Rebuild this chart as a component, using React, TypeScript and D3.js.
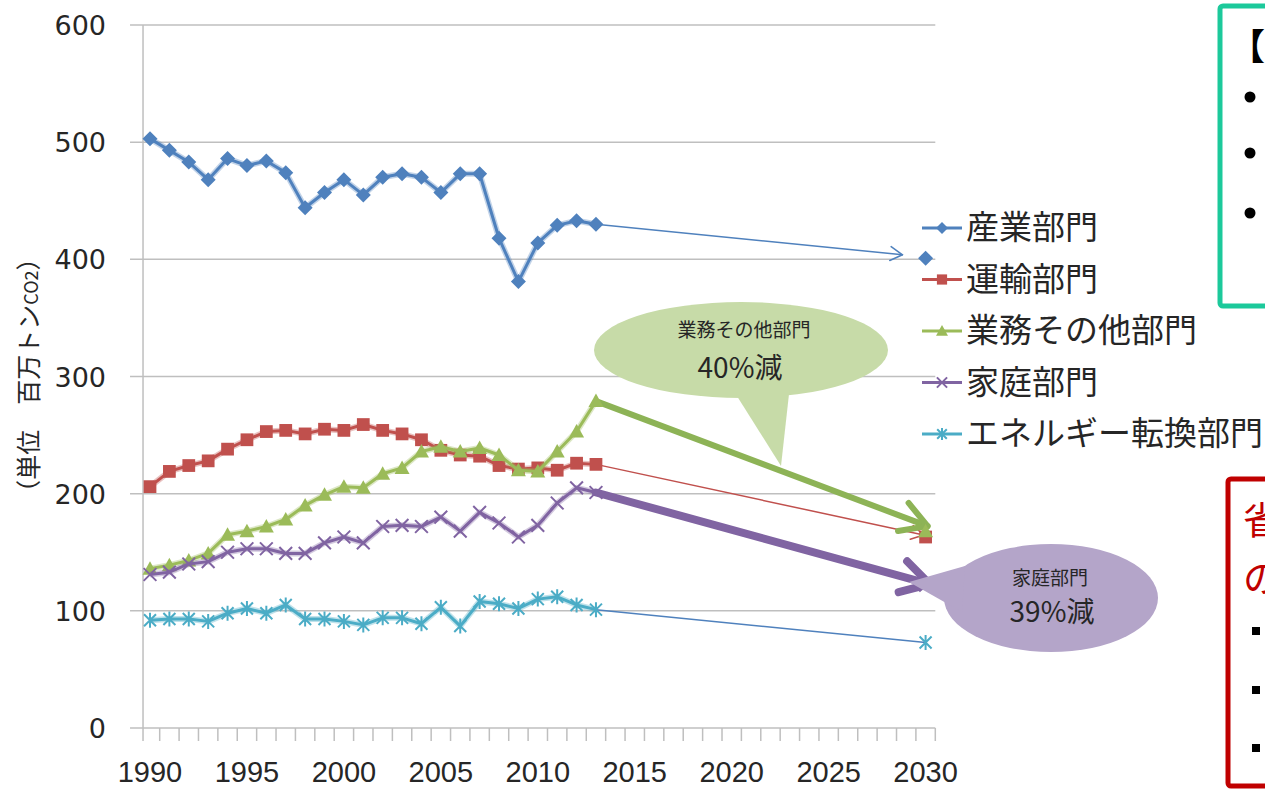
import React, { useRef, useEffect } from 'react';
import * as d3 from 'd3';

const years = [1990, 1991, 1992, 1993, 1994, 1995, 1996, 1997, 1998, 1999, 2000, 2001,
  2002, 2003, 2004, 2005, 2006, 2007, 2008, 2009, 2010, 2011, 2012, 2013];
const targetYear = 2030;
const yTicks = [0, 100, 200, 300, 400, 500, 600];
const xTickLabels = [1990, 1995, 2000, 2005, 2010, 2015, 2020, 2025, 2030];

const seriesNames = ['産業部門', '運輸部門', '業務その他部門', '家庭部門', 'エネルギー転換部門'];
const industry = [503, 493, 483, 468, 486, 480, 484, 474, 444, 457, 468, 455, 470, 473, 470, 457, 473, 473, 418, 381, 414, 429, 433, 430];
const transport = [206, 219, 224, 228, 238, 246, 253, 254, 251, 255, 254, 259, 254, 251, 246, 237, 233, 232, 224, 221, 222, 220, 226, 225];
const commercial = [136, 139, 143, 149, 165, 168, 172, 178, 190, 199, 206, 205, 217, 222, 236, 240, 236, 239, 233, 220, 219, 236, 253, 279];
const residential = [131, 133, 140, 142, 150, 153, 153, 149, 149, 158, 163, 158, 172, 173, 172, 180, 168, 184, 175, 163, 173, 192, 205, 201];
const energy = [92, 93, 93, 91, 98, 102, 98, 105, 93, 93, 91, 88, 94, 94, 89, 103, 87, 108, 106, 102, 110, 112, 105, 101];
const targets = [401, 163, 168, 122, 73];

const colors = ['#4f81bd', '#c0504d', '#9bbb59', '#8064a2', '#4bacc6'];
const symbols = ['diamond', 'square', 'triangle', 'x', 'star'];

const W = 1265;
const H = 791;
const TEXT = '#262626';
const JP = 'Noto Sans CJK JP, sans-serif';

function drawMarker(g: any, kind: string, cx: number, cy: number, color: string, s: number) {
  if (kind === 'diamond') {
    g.append('path').attr('d', `M${cx},${cy - s}L${cx + s},${cy}L${cx},${cy + s}L${cx - s},${cy}Z`).attr('fill', color);
  } else if (kind === 'square') {
    g.append('rect').attr('x', cx - s * 0.85).attr('y', cy - s * 0.85)
      .attr('width', s * 1.7).attr('height', s * 1.7).attr('fill', color);
  } else if (kind === 'triangle') {
    g.append('path').attr('d', `M${cx},${cy - s}L${cx + s},${cy + s * 0.8}L${cx - s},${cy + s * 0.8}Z`).attr('fill', color);
  } else if (kind === 'x') {
    const d = s * 0.85;
    g.append('path').attr('d', `M${cx - d},${cy - d}L${cx + d},${cy + d}M${cx - d},${cy + d}L${cx + d},${cy - d}`)
      .attr('stroke', color).attr('stroke-width', 2).attr('fill', 'none');
  } else {
    const d = s * 0.8;
    g.append('path').attr('d', `M${cx - d},${cy - d}L${cx + d},${cy + d}M${cx - d},${cy + d}L${cx + d},${cy - d}M${cx},${cy - s}L${cx},${cy + s}`)
      .attr('stroke', color).attr('stroke-width', 2).attr('fill', 'none');
  }
}

function arrow(g: any, x0: number, y0: number, x1: number, y1: number, color: string, w: number, head: number) {
  g.append('line').attr('x1', x0).attr('y1', y0).attr('x2', x1).attr('y2', y1)
    .attr('stroke', color).attr('stroke-width', w).attr('stroke-linecap', 'round');
  const a = Math.atan2(y1 - y0, x1 - x0);
  const spread = Math.PI / 6;
  const p = d3.path();
  p.moveTo(x1 - head * Math.cos(a - spread), y1 - head * Math.sin(a - spread));
  p.lineTo(x1, y1);
  p.lineTo(x1 - head * Math.cos(a + spread), y1 - head * Math.sin(a + spread));
  g.append('path').attr('d', p.toString()).attr('fill', 'none').attr('stroke', color)
    .attr('stroke-width', w).attr('stroke-linecap', 'round').attr('stroke-linejoin', 'round');
}

const Chart: React.FC = () => {
  const svgRef = useRef<SVGSVGElement | null>(null);

  useEffect(() => {
    if (!svgRef.current) return;
    const svg = d3.select(svgRef.current);
    svg.selectAll('*').remove();

    const x = d3.scaleLinear().domain([1990, targetYear]).range([150, 925.6]);
    const y = d3.scaleLinear().domain([0, 600]).range([728, 25]);
    const left = x(1989.64);
    const right = x(2030.5);

    // gridlines + y axis
    const grid = svg.append('g');
    yTicks.forEach(t => {
      grid.append('line').attr('x1', left - 13).attr('x2', right)
        .attr('y1', y(t)).attr('y2', y(t)).attr('stroke', '#bfbfbf').attr('stroke-width', 1.5);
      grid.append('text').attr('x', 106).attr('y', y(t) + 10).attr('text-anchor', 'end')
        .attr('font-family', 'DejaVu Sans, sans-serif').attr('font-size', 27).attr('fill', TEXT).text(t);
    });
    grid.append('line').attr('x1', left).attr('x2', left).attr('y1', y(600)).attr('y2', y(0) + 13)
      .attr('stroke', '#bfbfbf').attr('stroke-width', 1.5);

    // x axis ticks between categories
    d3.range(1990.5, 2031, 1).forEach(t => {
      grid.append('line').attr('x1', x(t)).attr('x2', x(t)).attr('y1', y(0)).attr('y2', y(0) + 13)
        .attr('stroke', '#bfbfbf').attr('stroke-width', 1.5);
    });
    xTickLabels.forEach(t => {
      grid.append('text').attr('x', x(t)).attr('y', 782).attr('text-anchor', 'middle')
        .attr('font-family', 'Liberation Sans Narrow, Liberation Sans, sans-serif').attr('font-size', 29)
        .attr('fill', TEXT).text(t);
    });

    // y axis title
    const yt = svg.append('text').attr('transform', 'translate(38,375) rotate(-90)')
      .attr('text-anchor', 'middle').attr('font-family', JP)
      .attr('font-size', 25).attr('fill', TEXT);
    yt.append('tspan').text('（単位　百万トン');
    yt.append('tspan').attr('font-size', 18).text('CO2');
    yt.append('tspan').text('）');

    const data = [industry, transport, commercial, residential, energy];

    // projection arrows 2013 -> 2030
    const proj = svg.append('g');
    const last = years[years.length - 1];
    const lx = x(last);
    const tx = x(targetYear);
    const iy0 = y(industry[industry.length - 1]);
    const iy1 = y(targets[0]);
    arrow(proj, lx, iy0, lx + (tx - lx) * 0.93, iy0 + (iy1 - iy0) * 0.93 - 1, colors[0], 1.5, 14);
    arrow(proj, lx, y(transport[transport.length - 1]), tx - 2, y(targets[1]) - 2, colors[1], 1.5, 14);
    proj.append('line').attr('x1', lx).attr('y1', y(energy[energy.length - 1]))
      .attr('x2', tx).attr('y2', y(targets[4])).attr('stroke', colors[0]).attr('stroke-width', 1.5);
    arrow(proj, lx, y(commercial[commercial.length - 1]), tx + 2, y(targets[2]) - 5, '#8db356', 6, 30);
    arrow(proj, lx, y(residential[residential.length - 1]), tx + 4, y(targets[3]) - 1, '#8064a2', 8, 32);

    // series
    data.forEach((vals, i) => {
      const g = svg.append('g');
      const line = d3.line<number>().x((_, j) => x(years[j])).y(v => y(v));
      g.append('path').attr('d', line(vals)!).attr('fill', 'none').attr('stroke', colors[i])
        .attr('stroke-opacity', 0.35).attr('stroke-width', 6).attr('stroke-linejoin', 'round');
      g.append('path').attr('d', line(vals)!).attr('fill', 'none').attr('stroke', colors[i])
        .attr('stroke-width', 3).attr('stroke-linejoin', 'round');
      vals.forEach((v, j) => drawMarker(g, symbols[i], x(years[j]), y(v), colors[i], 7.5));
      drawMarker(g, symbols[i], x(targetYear), y(targets[i]), colors[i], 7.5);
    });

    // legend
    const lg = svg.append('g');
    seriesNames.forEach((name, i) => {
      const cy = 228 + i * 51.5;
      lg.append('line').attr('x1', 922).attr('x2', 962).attr('y1', cy).attr('y2', cy)
        .attr('stroke', colors[i]).attr('stroke-width', 3);
      drawMarker(lg, symbols[i], 942, cy, colors[i], 6);
      lg.append('text').attr('x', 966).attr('y', cy + 11).attr('font-family', JP)
        .attr('font-size', 33).attr('fill', TEXT).text(name);
    });

    // callouts
    const co = svg.append('g');
    co.append('ellipse').attr('cx', 741).attr('cy', 350).attr('rx', 147).attr('ry', 48).attr('fill', '#c7dba8');
    co.append('path').attr('d', 'M730,385L790,385L781,466Z').attr('fill', '#c7dba8');
    co.append('text').attr('x', 744).attr('y', 337).attr('text-anchor', 'middle')
      .attr('font-family', JP).attr('font-size', 19).attr('fill', TEXT).text('業務その他部門');
    co.append('text').attr('x', 740).attr('y', 378).attr('text-anchor', 'middle')
      .attr('font-family', JP).attr('font-size', 28).attr('fill', TEXT).text('40%減');

    co.append('ellipse').attr('cx', 1051).attr('cy', 598).attr('rx', 107).attr('ry', 54).attr('fill', '#b4a5c9');
    co.append('path').attr('d', 'M965,566L909,582L962,612Z').attr('fill', '#b4a5c9');
    co.append('text').attr('x', 1050).attr('y', 585).attr('text-anchor', 'middle')
      .attr('font-family', JP).attr('font-size', 19).attr('fill', TEXT).text('家庭部門');
    co.append('text').attr('x', 1052).attr('y', 622).attr('text-anchor', 'middle')
      .attr('font-family', JP).attr('font-size', 28).attr('fill', TEXT).text('39%減');

    // right-side boxes (cut off by the page edge)
    const bx = svg.append('g');
    bx.append('rect').attr('x', 1220).attr('y', 6).attr('width', 80).attr('height', 300).attr('rx', 3)
      .attr('fill', 'none').attr('stroke', '#1cc99b').attr('stroke-width', 5);
    bx.append('text').attr('x', 1229).attr('y', 60).attr('font-family', JP)
      .attr('font-size', 36).attr('font-weight', 'bold').attr('fill', '#000').text('【');
    [97, 153, 213].forEach(cy => {
      bx.append('circle').attr('cx', 1250).attr('cy', cy).attr('r', 5.5).attr('fill', '#000');
    });

    bx.append('rect').attr('x', 1228).attr('y', 479).attr('width', 80).attr('height', 307).attr('rx', 3)
      .attr('fill', 'none').attr('stroke', '#c00000').attr('stroke-width', 5);
    bx.append('text').attr('x', 1243).attr('y', 534).attr('font-family', JP)
      .attr('font-size', 38).attr('fill', '#c00000').text('省');
    bx.append('text').attr('x', 1243).attr('y', 592).attr('font-family', JP)
      .attr('font-size', 38).attr('fill', '#c00000').text('の');
    [631, 690, 748].forEach(cy => {
      bx.append('rect').attr('x', 1252).attr('y', cy - 4).attr('width', 8).attr('height', 8).attr('fill', '#000');
    });
  }, []);

  return (
    <svg ref={svgRef} width={W} height={H}
      style={{ position: 'absolute', left: 0, top: 0, background: '#fff', display: 'block' }} />
  );
};

export default function App() {
  return <Chart />;
}
